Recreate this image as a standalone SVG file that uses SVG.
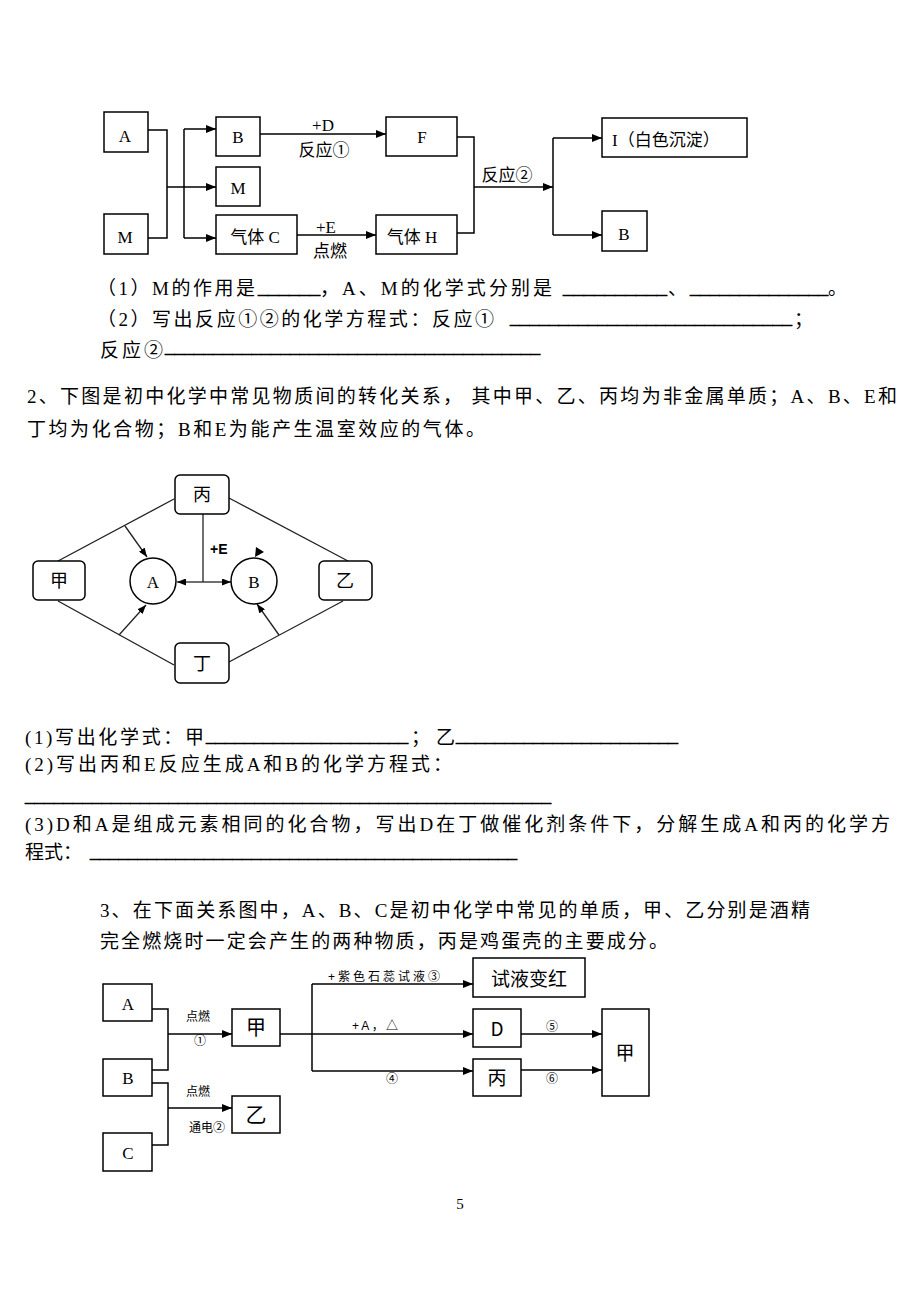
<svg xmlns="http://www.w3.org/2000/svg" width="920" height="1300" viewBox="0 0 920 1300">
<style>
.bg{fill:#fff}
.box{fill:#fff;stroke:#000;stroke-width:1.5}
.ln{fill:none;stroke:#000;stroke-width:1.5}
.ln2{fill:none;stroke:#222;stroke-width:1.3}
.body{font-family:"Liberation Serif","Noto Sans CJK SC",serif;font-size:19px;fill:#000}
.u{font-family:"Liberation Serif",serif;font-size:19px;fill:#000;stroke:#000;stroke-width:0.6}
.lab{font-family:"Liberation Serif","Noto Sans CJK SC",serif;font-size:17px;fill:#000;text-anchor:middle}
.st{text-anchor:start}
.cj{font-family:"Noto Sans CJK SC",sans-serif;fill:#000;text-anchor:middle}
.sm{font-family:"Liberation Sans","Noto Sans CJK SC",sans-serif;font-size:12px;fill:#000;text-anchor:middle}
.sm.st{text-anchor:start}
.lab.st{text-anchor:start}
</style>
<defs>
<marker id="ar" markerUnits="userSpaceOnUse" markerWidth="10" markerHeight="8" refX="10" refY="4" orient="auto"><path d="M0,0 L10,4 L0,8 z" fill="#000"/></marker>
<marker id="ar2" markerUnits="userSpaceOnUse" markerWidth="9" markerHeight="7" refX="9" refY="3.5" orient="auto"><path d="M0,0 L9,3.5 L0,7 z" fill="#000"/></marker>
</defs>
<rect class="bg" x="0" y="0" width="920" height="1300"/>

<!-- Diagram 1 -->
<g id="d1-connectors">
<polyline class="ln" points="148,130 167,130 167,238 148,238"/>
<line class="ln" x1="167" y1="187" x2="216" y2="187" marker-end="url(#ar)"/>
<line class="ln" x1="184" y1="129" x2="184" y2="238"/>
<line class="ln" x1="184" y1="129" x2="216" y2="129" marker-end="url(#ar)"/>
<line class="ln" x1="184" y1="238" x2="216" y2="238" marker-end="url(#ar)"/>
<line class="ln" x1="260" y1="134" x2="386" y2="134" marker-end="url(#ar)"/>
<line class="ln" x1="297" y1="235" x2="376" y2="235" marker-end="url(#ar)"/>
<polyline class="ln" points="457,137 474,137 474,233 457,233"/>
<line class="ln" x1="474" y1="187" x2="553" y2="187" marker-end="url(#ar)"/>
<line class="ln" x1="553" y1="138" x2="553" y2="235"/>
<line class="ln" x1="553" y1="138" x2="602" y2="138" marker-end="url(#ar)"/>
<line class="ln" x1="553" y1="235" x2="602" y2="235" marker-end="url(#ar)"/>
<text class="lab" x="323" y="131">+D</text>
<text class="lab" x="324" y="156" font-size="18">反应①</text>
<text class="lab" x="326" y="233">+E</text>
<text class="lab" x="330" y="257" font-size="18">点燃</text>
<text class="lab" x="507" y="181" font-size="18">反应②</text>
</g>
<g id="d1-A"><rect class="box" x="104" y="112" width="44" height="40"/><text class="lab" x="125" y="142">A</text></g>
<g id="d1-M1"><rect class="box" x="104" y="214" width="44" height="40"/><text class="lab" x="125" y="243">M</text></g>
<g id="d1-B"><rect class="box" x="216" y="117" width="44" height="39"/><text class="lab" x="238" y="143">B</text></g>
<g id="d1-M2"><rect class="box" x="216" y="167" width="44" height="39"/><text class="lab" x="238" y="194">M</text></g>
<g id="d1-C"><rect class="box" x="216" y="215" width="81" height="39"/><text class="lab" x="255" y="243">气体 C</text></g>
<g id="d1-F"><rect class="box" x="386" y="117" width="71" height="39"/><text class="lab" x="422" y="143">F</text></g>
<g id="d1-H"><rect class="box" x="376" y="215" width="81" height="39"/><text class="lab" x="412" y="243">气体 H</text></g>
<g id="d1-I"><rect class="box" x="602" y="118" width="145" height="39"/><text class="lab st" x="612" y="146" font-size="18">I（白色沉淀）</text></g>
<g id="d1-B2"><rect class="box" x="602" y="211" width="45" height="40"/><text class="lab" x="624" y="240">B</text></g>

<!-- Question 1 text -->
<g id="q1-text">
<text class="body" x="97" y="295" textLength="158" lengthAdjust="spacing">（1）M的作用是</text>
<text class="u" x="258" y="294" textLength="62" lengthAdjust="spacingAndGlyphs">______</text>
<text class="body" x="320" y="295" textLength="232" lengthAdjust="spacing">，A、M的化学式分别是</text>
<text class="u" x="563" y="294" textLength="104" lengthAdjust="spacingAndGlyphs">__________</text>
<text class="body" x="668" y="295">、</text>
<text class="u" x="690" y="294" textLength="138" lengthAdjust="spacingAndGlyphs">______________</text>
<text class="body" x="828" y="295">。</text>
<text class="body" x="97" y="326" textLength="397" lengthAdjust="spacing">（2）写出反应①②的化学方程式：反应①</text>
<text class="u" x="510" y="324" textLength="282" lengthAdjust="spacingAndGlyphs">_____________________________</text>
<text class="body" x="794" y="326">；</text>
<text class="body" x="100" y="357" textLength="63" lengthAdjust="spacing">反应②</text>
<text class="u" x="165" y="353" textLength="375" lengthAdjust="spacingAndGlyphs">_______________________________________</text>
</g>

<!-- Question 2 -->
<g id="q2-text">
<text class="body" x="27" y="403" textLength="870" lengthAdjust="spacing">2、下图是初中化学中常见物质间的转化关系， 其中甲、乙、丙均为非金属单质；A、B、E和</text>
<text class="body" x="27" y="436" textLength="458" lengthAdjust="spacing">丁均为化合物；B和E为能产生温室效应的气体。</text>
</g>

<g id="d2-connectors">
<line class="ln2" x1="174" y1="499" x2="58" y2="561"/>
<line class="ln2" x1="229" y1="498" x2="348" y2="561"/>
<line class="ln2" x1="58" y1="601" x2="174" y2="665"/>
<line class="ln2" x1="343" y1="601" x2="229" y2="662"/>
<line class="ln2" x1="125" y1="526" x2="147" y2="557" marker-end="url(#ar2)"/>
<line class="ln2" x1="119" y1="635" x2="146" y2="605" marker-end="url(#ar2)"/>
<line class="ln2" x1="279" y1="635" x2="257" y2="604" marker-end="url(#ar2)"/>
<line class="ln2" x1="203" y1="514" x2="203" y2="582"/>
<line class="ln2" x1="203" y1="582" x2="177" y2="582" marker-end="url(#ar2)"/>
<line class="ln2" x1="203" y1="582" x2="231" y2="582" marker-end="url(#ar2)"/>
<polygon points="255,557 256,547 264,552" fill="#000"/>
<text x="210" y="554" font-family="Liberation Sans, sans-serif" font-size="14" font-weight="bold" fill="#000">+E</text>
</g>
<g id="d2-bing"><rect class="box" x="175" y="475" width="54" height="39" rx="5"/><text class="cj" x="202" y="501" font-size="18">丙</text></g>
<g id="d2-jia"><rect class="box" x="33" y="561" width="52" height="39" rx="5"/><text class="cj" x="59" y="587" font-size="18">甲</text></g>
<g id="d2-yi"><rect class="box" x="319" y="561" width="53" height="39" rx="5"/><text class="cj" x="345" y="587" font-size="18">乙</text></g>
<g id="d2-ding"><rect class="box" x="175" y="643" width="54" height="40" rx="5"/><text class="cj" x="202" y="670" font-size="18">丁</text></g>
<g id="d2-A"><circle class="box" cx="153" cy="581" r="23"/><text class="lab" x="153" y="588" font-size="18">A</text></g>
<g id="d2-B"><circle class="box" cx="254" cy="581" r="23"/><text class="lab" x="254" y="588" font-size="18">B</text></g>

<g id="q2-questions">
<text class="body" x="25" y="744" textLength="179" lengthAdjust="spacing">(1)写出化学式：甲</text>
<text class="u" x="206" y="742" textLength="202" lengthAdjust="spacingAndGlyphs">_____________________</text>
<text class="body" x="411" y="744">；</text>
<text class="body" x="436" y="744">乙</text>
<text class="u" x="456" y="742" textLength="222" lengthAdjust="spacingAndGlyphs">_______________________</text>
<text class="body" x="25" y="771" textLength="427" lengthAdjust="spacing">(2)写出丙和E反应生成A和B的化学方程式：</text>
<text class="u" x="25" y="802" textLength="526" lengthAdjust="spacingAndGlyphs">_______________________________________________________</text>
<text class="body" x="25" y="831" textLength="865" lengthAdjust="spacing">(3)D和A是组成元素相同的化合物，写出D在丁做催化剂条件下，分解生成A和丙的化学方</text>
<text class="body" x="25" y="859">程式：</text>
<text class="u" x="90" y="858" textLength="427" lengthAdjust="spacingAndGlyphs">_____________________________________________</text>
</g>

<!-- Question 3 -->
<g id="q3-text">
<text class="body" x="100" y="917" textLength="710" lengthAdjust="spacing">3、在下面关系图中，A、B、C是初中化学中常见的单质，甲、乙分别是酒精</text>
<text class="body" x="100" y="948" textLength="568" lengthAdjust="spacing">完全燃烧时一定会产生的两种物质，丙是鸡蛋壳的主要成分。</text>
</g>

<g id="d3-connectors">
<polyline class="ln" points="152,1009 168,1009 168,1070 152,1070"/>
<line class="ln" x1="168" y1="1034" x2="232" y2="1034" marker-end="url(#ar)"/>
<polyline class="ln" points="152,1083 168,1083 168,1145 152,1145"/>
<line class="ln" x1="168" y1="1108" x2="232" y2="1108" marker-end="url(#ar)"/>
<line class="ln" x1="280" y1="1034" x2="473" y2="1034" marker-end="url(#ar)"/>
<line class="ln" x1="312" y1="984" x2="312" y2="1071"/>
<line class="ln" x1="312" y1="984" x2="473" y2="984" marker-end="url(#ar)"/>
<line class="ln" x1="312" y1="1071" x2="473" y2="1071" marker-end="url(#ar)"/>
<line class="ln" x1="521" y1="1034" x2="602" y2="1034" marker-end="url(#ar)"/>
<line class="ln" x1="521" y1="1070" x2="602" y2="1070" marker-end="url(#ar)"/>
<text class="sm" x="198" y="1021">点燃</text>
<text class="sm" x="200" y="1045">①</text>
<text class="sm" x="198" y="1096">点燃</text>
<text class="sm" x="207" y="1132">通电②</text>
<text class="sm st" x="328" y="981" textLength="112" lengthAdjust="spacing">+紫色石蕊试液③</text>
<text class="sm st" x="352" y="1030" textLength="46" lengthAdjust="spacing">+A，△</text>
<text class="sm" x="392" y="1083">④</text>
<text class="sm" x="552" y="1031">⑤</text>
<text class="sm" x="552" y="1083">⑥</text>
</g>
<g id="d3-A"><rect class="box" x="103" y="984" width="49" height="37"/><text class="lab" x="128" y="1010" font-size="18">A</text></g>
<g id="d3-B"><rect class="box" x="103" y="1059" width="49" height="37"/><text class="lab" x="128" y="1084" font-size="18">B</text></g>
<g id="d3-C"><rect class="box" x="103" y="1133" width="49" height="38"/><text class="lab" x="128" y="1159" font-size="18">C</text></g>
<g id="d3-jia"><rect class="box" x="232" y="1009" width="48" height="37"/><text class="cj" x="256" y="1035" font-size="20">甲</text></g>
<g id="d3-yi"><rect class="box" x="232" y="1096" width="48" height="37"/><text class="cj" x="256" y="1122" font-size="21">乙</text></g>
<g id="d3-red"><rect class="box" x="473" y="958" width="112" height="39"/><text class="cj" x="529" y="986" font-size="19">试液变红</text></g>
<g id="d3-D"><rect class="box" x="473" y="1009" width="48" height="38"/><text class="cj" x="497" y="1036" font-size="19" font-family="Liberation Sans, sans-serif">D</text></g>
<g id="d3-bing"><rect class="box" x="473" y="1059" width="48" height="37"/><text class="cj" x="497" y="1085" font-size="19">丙</text></g>
<g id="d3-jia2"><rect class="box" x="602" y="1009" width="47" height="87"/><text class="cj" x="625" y="1060" font-size="19">甲</text></g>

<text x="460" y="1209" font-family="Liberation Serif, serif" font-size="15" fill="#000" text-anchor="middle">5</text>
</svg>
